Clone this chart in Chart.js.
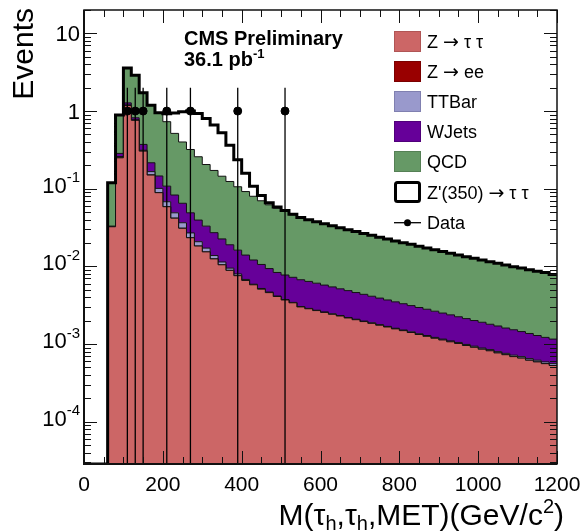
<!DOCTYPE html>
<html>
<head>
<meta charset="utf-8">
<script src="https://cdn.jsdelivr.net/npm/chart.js@4.4.0/dist/chart.umd.min.js"></script>
<style>
html,body{margin:0;padding:0;background:#fff;}
#wrap{width:587px;height:531px;position:relative;background:#fff;}
</style>
</head>
<body>
<div id="wrap"><canvas id="c" width="587" height="531"></canvas></div>
<script>
// ---- bins (lower edges, GeV/c^2), width 20 ----
const binLowEdges = [0,20,40,60,80,100,120,140,160,180,200,220,240,260,280,300,320,340,360,380,
  400,420,440,460,480,500,520,540,560,580,600,620,640,660,680,700,720,740,760,780,
  800,820,840,860,880,900,920,940,960,980,1000,1020,1040,1060,1080,1100,1120,1140,1160,1180];

// ---- stacked backgrounds (events per bin) ----
const ztt = [0,0,0,
  0.0324,0.25,1.18,0.76,0.305,0.15,0.089,0.0587,0.0418,0.031,
  0.0234,0.0183,0.0154,0.0125,0.0105,0.0089,0.0076,0.0066,0.0058,0.0051,
  0.0046,0.0041,0.0037,0.0034,
  0.00301,0.00285,0.0027,0.00256,0.00242,0.0023,0.00217,0.00206,0.00195,0.00185,
  0.00175,0.00166,0.00157,0.00149,0.00141,0.00133,0.00126,0.00119,0.00113,0.00107,
  0.00102,0.00096,0.00091,0.00086,0.00082,0.00077,0.00073,0.00069,0.00066,0.00062,
  0.00059,0.00056,0.00053];
const zee = [0,0,0,0,0.003,0.01,0.005,0.002,0.001,
  0,0,0,0,0,0,0,0,0,0,
  0,0,0,0,0,0,0,0,0,0,
  0,0,0,0,0,0,0,0,0,0,
  0,0,0,0,0,0,0,0,0,0,
  0,0,0,0,0,0,0,0,0,0,
  0];
const ttbar = [0,0,0,
  0.0003,0.007,0.005,0.005,0.006,0.015,0.012,0.0093,0.0072,0.0055,
  0.0036,0.0025,0.0018,0.0013,0.0009,0.0006,0.0004,0.0002,0.0001,0.0001,
  0.00008,0.00006,0.00005,0.00004,
  0.00003,0.00003,0.00003,0.00003,0.00003,0.00003,0.00003,0.00003,0.00003,0.00003,
  0.00003,0.00003,0.00003,0.00003,0.00003,0.00003,0.00003,0.00003,0.00003,0.00003,
  0.00003,0.00003,0.00003,0.00003,0.00003,0.00003,0.00003,0.00003,0.00003,0.00003,
  0.00003,0.00003,0.00003];
const wjets = [0,0,0,
  0.0003,0.025,0.08,0.05,0.059,0.05,0.045,0.04,0.034,0.0285,
  0.022,0.0187,0.0158,0.0134,0.0112,0.0095,0.0082,0.0072,0.0062,0.0054,
  0.0047,0.0042,0.004,0.0038,
  0.0037,0.00353,0.00335,0.00316,0.003,0.00282,0.00268,0.00252,0.00239,0.00225,
  0.00213,0.00201,0.0019,0.00179,0.00169,0.0016,0.00152,0.00143,0.00135,0.00128,
  0.0012,0.00114,0.00107,0.00102,0.00095,0.00091,0.00085,0.00081,0.00076,0.00072,
  0.00067,0.00063,0.0006];
const qcd = [0,0,0,
  0.086,0.603,2.32,2.07,1.35,0.974,0.784,0.622,0.433,0.335,
  0.271,0.2185,0.172,0.1448,0.1224,0.105,0.0898,0.078,0.0679,0.0594,
  0.0527,0.0477,0.0434,0.0389,
  0.0353,0.0333,0.0313,0.0296,0.0279,0.0264,0.0248,0.0235,0.0222,0.021,
  0.0199,0.0188,0.0178,0.0169,0.0161,0.0152,0.0144,0.0137,0.013,0.0124,
  0.0118,0.0112,0.0107,0.0102,0.0097,0.0093,0.0088,0.0084,0.0081,0.0077,
  0.0074,0.0071,0.0067];
// ---- signal Z'(350) -> tau tau, drawn stacked on the backgrounds ----
const zprime = [0,0,0,0,0,0,0,0,0,
  0.02,0.19,0.43,0.58,0.68,0.67,0.6,0.49,0.38,0.24,
  0.13,0.066,0.028,0.012,0.004,0.002,0.0012,0.0008,0.0005,0.0003,
  0.0002,0.0001,
  0,0,0,0,0,0,0,0,0,0,
  0,0,0,0,0,0,0,0,0,0,
  0,0,0,0,0,0,0,0,0];

// ---- data ----
const dataMass = [110,130,150,210,270,390,510];
const dataEvents = [1,1,1,1,1,1,1];
const dataErr = [1,1,1,1,1,1,1];

// ---- axes ----
const xTickValues = [0,200,400,600,800,1000,1200];
const xTickLabels = ['0','200','400','600','800','1000','1200'];
const yTickValues = [1e-4,1e-3,1e-2,1e-1,1,10];
const yTickLabels = ['10^-4','10^-3','10^-2','10^-1','1','10'];
const xMin = 0, xMax = 1200, yMin = 2.86e-5, yMax = 20;

// ---- legend ----
const legendLabels = ['Z \u2192 \u03c4 \u03c4','Z \u2192 ee','TTBar','WJets','QCD',"Z'(350) \u2192 \u03c4 \u03c4",'Data'];
const colZtt = '#cc6666', colZee = '#990000', colTT = '#9999cc', colW = '#660099', colQCD = '#669966';

const FONT = '"Liberation Sans", Arial, Helvetica, sans-serif';

// ---- build cumulative stack (library needs pixel paths from values) ----
const comps = [ztt, zee, ttbar, wjets, qcd];
comps.concat([zprime]).forEach((a,i)=>{ if(a.length!==binLowEdges.length) console.error('len mismatch', i, a.length); });
const cum = [];
let run = binLowEdges.map(()=>0);
comps.forEach(a => { run = run.map((v,i)=>v + a[i]); cum.push(run.slice()); });
const withSignal = run.map((v,i)=>v + zprime[i]);
const binW = binLowEdges[1]-binLowEdges[0];
const lastEdge = binLowEdges[binLowEdges.length-1] + binW;
// empty bins sit on the axis floor (a log axis cannot show 0)
function stepPts(vals){
  const pts = binLowEdges.map((e,i)=>({x:e, y:Math.max(vals[i], yMin)}));
  pts.push({x:lastEdge, y:Math.max(vals[vals.length-1], yMin)});
  return pts;
}
const fills = [colZtt, colZee, colTT, colW, colQCD];
const names = ['Z\u2192\u03c4\u03c4','Z\u2192ee','TTBar','WJets','QCD'];
const datasets = cum.map((c,i)=>({
  label: names[i], data: stepPts(c), stepped: 'before',
  backgroundColor: fills[i], borderColor: '#111', borderWidth: 1,
  fill: i===0 ? 'start' : '-1', pointRadius: 0, pointHitRadius: 0, order: 0
}));
datasets.push({label:"Z'(350)", data: stepPts(withSignal), stepped:'before', fill:false,
  borderColor:'#000', borderWidth:3, pointRadius:0, order:-1});
datasets.push({label:'Data', data: dataMass.map((m,i)=>({x:m, y:dataEvents[i]})), showLine:false,
  pointRadius:4, pointBackgroundColor:'#000', pointBorderColor:'#000', order:-2});

function segFont(s){ return (s.bold?'bold ':'')+s.size+'px '+(s.family||FONT); }
function richWidth(ctx, segs){
  let w=0; segs.forEach(s=>{ctx.font=segFont(s); s.w=ctx.measureText(s.t).width; w+=s.w;}); return w;
}
function drawRich(ctx, segs, x, y, align){
  const w = richWidth(ctx, segs);
  let cx = align==='right' ? x-w : (align==='center' ? x-w/2 : x);
  segs.forEach(s=>{ctx.font=segFont(s); ctx.fillText(s.t, cx, y+(s.dy||0)); cx+=s.w;});
}
// split a label so the arrow uses a wider glyph
function labelSegs(txt, size){
  const parts = txt.split('\u2192');
  if(parts.length===1) return [{t:txt,size}];
  return [{t:parts[0],size},{t:'\u2192',size:size+1,family:'"DejaVu Sans", sans-serif',dy:0},{t:parts[1],size}];
}

const decor = {
  id:'decor',
  afterDatasetsDraw(chart){
    const {ctx, chartArea:a, scales:{x,y}} = chart;
    ctx.save();
    ctx.beginPath(); ctx.rect(a.left,a.top,a.right-a.left,a.bottom-a.top); ctx.clip();
    ctx.strokeStyle='#000'; ctx.lineWidth=1.3;
    dataMass.forEach((m,i)=>{
      const px = x.getPixelForValue(m);
      const lo = dataEvents[i]-dataErr[i];
      const yt = y.getPixelForValue(dataEvents[i]+dataErr[i]);
      const yb = lo>0 ? y.getPixelForValue(lo) : a.bottom;
      ctx.beginPath(); ctx.moveTo(px,yt); ctx.lineTo(px,yb); ctx.stroke();
    });
    ctx.restore();
  },
  afterDraw(chart){
    const {ctx, chartArea:a, scales:{x,y}} = chart;
    ctx.save();
    ctx.strokeStyle='#111'; ctx.lineWidth=1;
    // x ticks (bottom & top), every 50, major every 200
    for(let v=xMin; v<=xMax; v+=50){
      const px = Math.round(x.getPixelForValue(v))+0.5;
      const len = (v%200===0)?13:7;
      ctx.beginPath(); ctx.moveTo(px,a.bottom); ctx.lineTo(px,a.bottom-len);
      ctx.moveTo(px,a.top); ctx.lineTo(px,a.top+len); ctx.stroke();
    }
    // y ticks (left & right), log
    for(let d=-5; d<=1; d++){
      for(let k=1;k<=9;k++){
        const v = k*Math.pow(10,d);
        if(v<yMin||v>yMax) continue;
        const py = Math.round(y.getPixelForValue(v))+0.5;
        const len = k===1?13:7;
        ctx.beginPath(); ctx.moveTo(a.left,py); ctx.lineTo(a.left+len,py);
        ctx.moveTo(a.right,py); ctx.lineTo(a.right-len,py); ctx.stroke();
      }
    }
    // frame
    ctx.lineWidth=1.5; ctx.strokeStyle='#111';
    ctx.strokeRect(a.left, a.top, a.right-a.left, a.bottom-a.top);
    ctx.lineWidth=2;
    ctx.beginPath(); ctx.moveTo(a.left,a.top); ctx.lineTo(a.left,a.bottom); ctx.lineTo(a.right,a.bottom); ctx.stroke();

    ctx.fillStyle='#000';
    ctx.textAlign='left'; ctx.textBaseline='alphabetic';
    // x tick labels
    xTickValues.forEach((v,i)=>{
      drawRich(ctx,[{t:xTickLabels[i],size:21}], x.getPixelForValue(v), a.bottom+27, 'center');
    });
    // y tick labels
    yTickValues.forEach((v,i)=>{
      const py = y.getPixelForValue(v);
      const parts = yTickLabels[i].split('^');
      if(parts.length===2){
        drawRich(ctx,[{t:parts[0],size:22,dy:0},{t:parts[1],size:15,dy:-10.5}], 80, py+4, 'right');
      } else {
        drawRich(ctx,[{t:parts[0],size:22}], 80, py+8, 'right');
      }
    });
    // axis titles
    drawRich(ctx,[
      {t:'M(\u03c4',size:30},{t:'h',size:20,dy:5},{t:',\u03c4',size:30},{t:'h',size:20,dy:5},
      {t:',MET)(GeV/c',size:30},{t:'2',size:20,dy:-12},{t:')',size:30}
    ], 564, 525, 'right');
    ctx.save();
    ctx.translate(33, 8); ctx.rotate(-Math.PI/2);
    drawRich(ctx,[{t:'Events',size:30}], 0, 0, 'right');
    ctx.restore();

    // CMS label
    drawRich(ctx,[{t:'CMS Preliminary',size:20,bold:true}], 184, 45, 'left');
    drawRich(ctx,[{t:'36.1 pb',size:20,bold:true},{t:'-1',size:13,bold:true,dy:-8}], 184, 66, 'left');

    // legend
    const bx=394, bw=27, bh=21;
    const boxCols=[colZtt,colZee,colTT,colW,colQCD];
    const borderCols=['#b05555','#7a0000','#8080b0','#50007a','#558055'];
    for(let i=0;i<5;i++){
      const top=31+i*30;
      ctx.fillStyle=boxCols[i]; ctx.fillRect(bx,top,bw,bh);
      ctx.strokeStyle=borderCols[i]; ctx.lineWidth=1; ctx.strokeRect(bx+0.5,top+0.5,bw-1,bh-1);
      ctx.fillStyle='#000';
      drawRich(ctx,labelSegs(legendLabels[i],18), 427, top+bh/2+6.5, 'left');
    }
    // Z' entry
    ctx.strokeStyle='#000'; ctx.lineWidth=3;
    ctx.beginPath();
    if(ctx.roundRect) ctx.roundRect(bx+1.5,182.5,bw-3,bh-2,2); else ctx.rect(bx+1.5,182.5,bw-3,bh-2);
    ctx.stroke();
    ctx.fillStyle='#000';
    drawRich(ctx,labelSegs(legendLabels[5],18), 427, 198.5, 'left');
    // Data entry
    ctx.lineWidth=1.3; ctx.beginPath(); ctx.moveTo(bx,222.7); ctx.lineTo(bx+bw,222.7); ctx.stroke();
    ctx.beginPath(); ctx.arc(bx+bw/2,222.7,3.5,0,Math.PI*2); ctx.fill();
    drawRich(ctx,labelSegs(legendLabels[6],18), 427, 229.3, 'left');
    ctx.restore();
  }
};

new Chart(document.getElementById('c').getContext('2d'), {
  type:'line',
  data:{datasets},
  options:{
    responsive:false, animation:false, devicePixelRatio:1,
    layout:{padding:{left:84,right:30,top:10,bottom:67}},
    scales:{
      x:{type:'linear',min:xMin,max:xMax,display:false},
      y:{type:'logarithmic',min:yMin,max:yMax,display:false}
    },
    plugins:{legend:{display:false},tooltip:{enabled:false}},
    elements:{point:{radius:0}}
  },
  plugins:[decor]
});
</script>
</body>
</html>
